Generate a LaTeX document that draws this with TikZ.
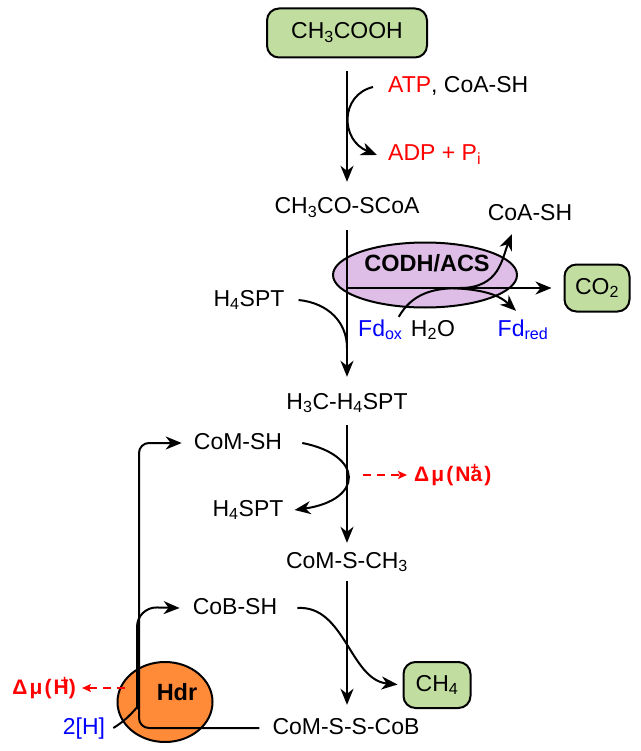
\documentclass[tikz,border=0pt]{standalone}
\usepackage{fontspec}
\setmainfont{Liberation Sans}
\usepackage{xcolor}
\usetikzlibrary{positioning, arrows.meta, shapes.geometric}
\definecolor{boxgreen}{RGB}{193,222,160}
\definecolor{codhpurple}{RGB}{222,190,230}
\definecolor{hdrorange}{RGB}{255,138,56}

\begin{document}
\begin{tikzpicture}[x=1pt, y=-1pt,
  txt/.style={font=\fontsize{23}{27}\selectfont, inner sep=2pt, text height=17pt, text depth=5pt},
  box/.style={txt, draw, fill=boxgreen, line width=2pt, rounded corners=12pt},
  enz/.style={ellipse, draw, line width=2pt, inner sep=0pt},
  enzlbl/.style={font=\fontsize{23.5}{26}\selectfont\bfseries},
  dmu/.style={font=\fontsize{21}{24}\selectfont\bfseries\addfontfeature{LetterSpace=10}, text=red, inner sep=1pt},
  arr/.style={-{Stealth[length=16pt, width=13pt, inset=5pt]}, line width=2pt},
  dasharr/.style={-{Stealth[length=9pt, width=8pt, inset=2pt]}, red, line width=1.8pt, dash pattern=on 8pt off 6pt}
]
\useasboundingbox (0,0) rectangle (640,751);

\node[enz, fill=codhpurple, minimum width=184pt, minimum height=65pt] (codh) at (425,275) {};
\node[enz, fill=hdrorange, minimum width=95pt, minimum height=80pt] (hdr) at (165,702) {};

\node[box, minimum width=160pt, minimum height=49pt] (acetate) at (347,33) {CH\textsubscript{3}COOH};
\node[txt] (acetylcoa) at (347,208) {CH\textsubscript{3}CO-SCoA};
\node[txt] (methylspt) at (347,403) {H\textsubscript{3}C-H\textsubscript{4}SPT};
\node[txt] (methylcom) at (347,562) {CoM-S-CH\textsubscript{3}};
\node[txt] (heterodisulfide) at (346,728) {CoM-S-S-CoB};
\node[box, minimum width=65pt, minimum height=47pt] (co2) at (597,288) {CO\textsubscript{2}};
\node[box, minimum width=67pt, minimum height=46pt] (ch4) at (437,685) {CH\textsubscript{4}};

\node[txt, anchor=west] (atp) at (386,87) {\textcolor{red}{ATP}, CoA-SH};
\node[txt, anchor=west, text=red] (adp) at (386,155) {ADP + P\textsubscript{i}};
\node[txt] (coash) at (530,215) {CoA-SH};
\node[txt] (sptin) at (249,300) {H\textsubscript{4}SPT};
\node[txt, anchor=west, text=blue] (fdox) at (356,330) {Fd\textsubscript{ox}};
\node[txt, right=4pt of fdox] (h2o) {H\textsubscript{2}O};
\node[txt, text=blue] (fdred) at (523,330) {Fd\textsubscript{red}};
\node[txt] (comsh) at (238,443) {CoM-SH};
\node[txt] (sptout) at (248,510) {H\textsubscript{4}SPT};
\node[txt] (cobsh) at (235,608) {CoB-SH};
\node[txt, text=blue] (twoh) at (84,728) {2[H]};
\node[enzlbl] (codhlbl) at (427,263) {CODH/ACS};
\node[enzlbl] (hdrlbl) at (177,692) {Hdr};

\coordinate (branch) at (347,288);
\coordinate (sptjoin) at (347,348);
\coordinate (fdsplit) at (440,288);
\coordinate (loopx) at (139,600);
\coordinate (nastart) at (363,475);
\coordinate (hstart) at (125,688);
\node[dmu, right=50pt of nastart] (nalbl) {Δμ(N\rlap{\raisebox{.4em}{\fontsize{14}{14}\selectfont+}}a)};
\node[dmu, left=48pt of hstart] (hlbl) {Δμ(H\llap{\raisebox{.4em}{\fontsize{14}{14}\selectfont+}})};

\draw[arr, shorten <=12.5pt, shorten >=13pt] (acetate.south) -- (acetylcoa.north);
\draw[arr, shorten <=9pt, shorten >=13pt] (acetylcoa.south) -- (methylspt.north);
\draw[arr, shorten <=9pt, shorten >=6pt] (methylspt.south) -- (methylcom.north);
\draw[arr, shorten <=6pt, shorten >=10pt] (methylcom.south) -- (methylcom.south |- heterodisulfide.north);
\draw[arr, shorten >=12pt] (branch) -- (co2.west);

\draw[arr] ([xshift=-13pt]atp.west) .. controls (340,95) and (340,140) .. ([xshift=-9pt]adp.west);
\draw[arr] ([xshift=-6pt]fdox.north east) .. controls (412,294) and (432,288) .. (460,288)
  .. controls (500,288) and (502,258) .. ([xshift=-18pt, yshift=-6pt]coash.south);
\draw[arr] (fdsplit) .. controls (485,288) and (500,296) .. ([xshift=-7pt, yshift=6pt]fdred.north);
\draw[line width=2pt] ([xshift=12pt]sptin.east) .. controls (328,303) and (347,322) .. (sptjoin);
\draw[arr] ([xshift=18pt]comsh.east) .. controls (364,455) and (364,500) .. ([xshift=9pt]sptout.east);
\draw[arr, shorten >=5pt] ([xshift=18pt]cobsh.east) .. controls (345,605) and (350,680) .. (ch4.west);
\draw[arr, rounded corners=10pt, shorten <=11pt, shorten >=10pt] (heterodisulfide.west) -| (loopx) |- (comsh.west);
\draw[arr, rounded corners=20pt] ([xshift=6pt]twoh.east) .. controls (130,718) and (137,706) .. (137,688)
  -- (137,607) -- ([xshift=-11pt]cobsh.west);

\draw[dasharr, shorten >=6pt] (nastart) -- (nalbl.west);
\draw[dasharr, shorten >=5pt] (hstart) -- (hlbl.east);
\end{tikzpicture}
\end{document}
